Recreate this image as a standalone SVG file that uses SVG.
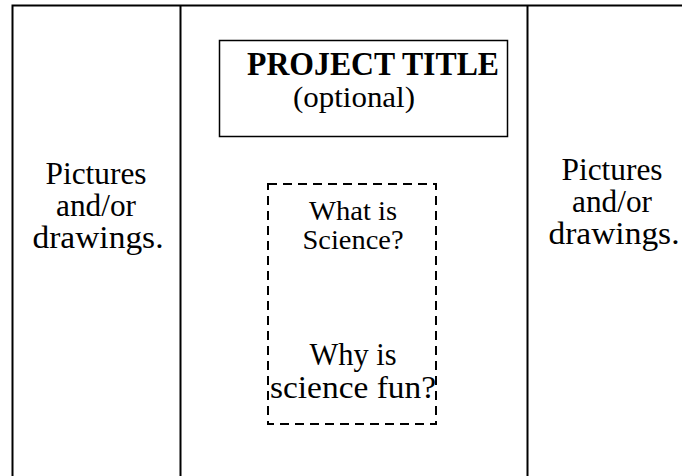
<svg xmlns="http://www.w3.org/2000/svg" width="682" height="476" viewBox="0 0 682 476">
<style>
.t{font-family:"Liberation Serif","Times New Roman",serif;fill:#000;text-anchor:middle}
.b{font-weight:bold}
.line{stroke:#000;stroke-width:2;fill:none}
.dash{stroke:#000;stroke-width:2;fill:none;stroke-dasharray:9 6}
</style>
<rect width="682" height="476" fill="#fff"/>
<g id="frame">
<path class="line" d="M12.5 490 V5.5 H690"/>
<path class="line" d="M180.5 5.5 V490"/>
<path class="line" d="M527.5 5.5 V490"/>
</g>
<g id="left-panel">
<text class="t" x="96" y="184" font-size="31" textLength="101" lengthAdjust="spacingAndGlyphs">Pictures</text>
<text class="t" x="96" y="216" font-size="31" textLength="80" lengthAdjust="spacingAndGlyphs">and/or</text>
<text class="t" x="98" y="248" font-size="31" textLength="131" lengthAdjust="spacingAndGlyphs">drawings.</text>
</g>
<g id="title">
<rect x="219.5" y="40.5" width="288" height="96" fill="none" stroke="#000" stroke-width="1.5"/>
<text class="t b" x="373" y="75" font-size="34" textLength="252" lengthAdjust="spacingAndGlyphs">PROJECT TITLE</text>
<text class="t" x="354" y="107" font-size="30" textLength="122" lengthAdjust="spacingAndGlyphs">(optional)</text>
</g>
<g id="question-box">
<rect class="dash" x="268" y="184" width="168" height="240"/>
<text class="t" x="353" y="220" font-size="28" textLength="88" lengthAdjust="spacingAndGlyphs">What is</text>
<text class="t" x="353" y="249" font-size="28" textLength="101" lengthAdjust="spacingAndGlyphs">Science?</text>
<text class="t" x="353" y="365" font-size="32" textLength="87" lengthAdjust="spacingAndGlyphs">Why is</text>
<text class="t" x="353" y="398" font-size="32" textLength="166" lengthAdjust="spacingAndGlyphs">science fun?</text>
</g>
<g id="right-panel">
<text class="t" x="612" y="180" font-size="31" textLength="101" lengthAdjust="spacingAndGlyphs">Pictures</text>
<text class="t" x="612" y="212" font-size="31" textLength="80" lengthAdjust="spacingAndGlyphs">and/or</text>
<text class="t" x="614" y="244" font-size="31" textLength="131" lengthAdjust="spacingAndGlyphs">drawings.</text>
</g>
<g id="connectors"></g>
</svg>
